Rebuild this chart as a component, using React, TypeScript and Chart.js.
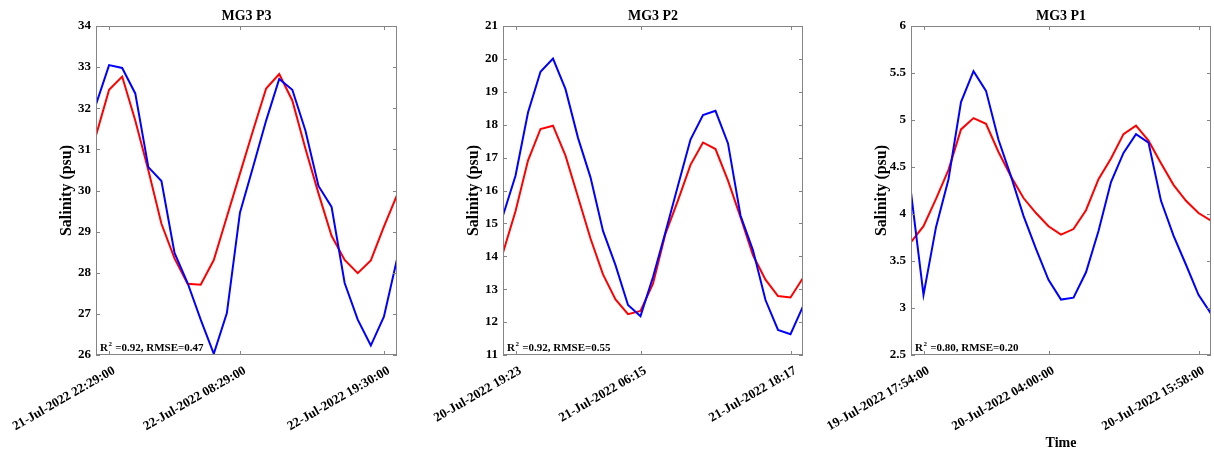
import React, { useEffect, useRef } from 'react';
import { Chart, registerables } from 'chart.js';

Chart.register(...registerables);

const FONT = '"Liberation Serif", "Times New Roman", serif';

// ---------- Panel "MG3 P3" ----------
const p3Title = 'MG3 P3';
const p3Observed = [32.09, 33.05, 32.98, 32.36, 30.57, 30.23, 28.48, 27.75, 26.86, 26.03, 27.02, 29.46, 30.57, 31.7, 32.71, 32.45, 31.46, 30.11, 29.6, 27.75, 26.86, 26.23, 26.93, 28.33];
const p3Predicted = [31.34, 32.45, 32.77, 31.7, 30.49, 29.19, 28.35, 27.73, 27.71, 28.31, 29.36, 30.41, 31.46, 32.48, 32.83, 32.19, 31.02, 29.93, 28.9, 28.31, 27.99, 28.3, 29.12, 29.89];
const p3TickPos = [1, 11, 22];
const p3TickLabels = ['21-Jul-2022 22:29:00', '22-Jul-2022 08:29:00', '22-Jul-2022 19:30:00'];
const p3YRange = [26, 34, 1];
const p3Stats = ['0.92', '0.47'];

// ---------- Panel "MG3 P2" ----------
const p2Title = 'MG3 P2';
const p2Observed = [15.24, 16.45, 18.37, 19.61, 20.01, 19.08, 17.6, 16.4, 14.77, 13.73, 12.52, 12.18, 13.37, 14.74, 16.15, 17.55, 18.29, 18.42, 17.43, 15.24, 14.18, 12.67, 11.76, 11.63, 12.48];
const p2Predicted = [14.11, 15.37, 16.91, 17.87, 17.97, 17.06, 15.8, 14.54, 13.45, 12.69, 12.24, 12.34, 13.17, 14.69, 15.7, 16.78, 17.46, 17.26, 16.3, 15.19, 14.03, 13.29, 12.79, 12.75, 13.34];
const p2TickPos = [1, 11, 23];
const p2TickLabels = ['20-Jul-2022 19:23', '21-Jul-2022 06:15', '21-Jul-2022 18:17'];
const p2YRange = [11, 21, 1];
const p2Stats = ['0.92', '0.55'];

// ---------- Panel "MG3 P1" ----------
const p1Title = 'MG3 P1';
const p1Observed = [4.23, 3.14, 3.86, 4.37, 5.19, 5.52, 5.31, 4.79, 4.4, 3.98, 3.63, 3.3, 3.09, 3.11, 3.38, 3.82, 4.34, 4.65, 4.85, 4.76, 4.14, 3.77, 3.46, 3.14, 2.94];
const p1Predicted = [3.7, 3.87, 4.16, 4.47, 4.9, 5.02, 4.96, 4.66, 4.4, 4.17, 4.01, 3.87, 3.78, 3.84, 4.04, 4.37, 4.59, 4.85, 4.94, 4.78, 4.54, 4.31, 4.14, 4.01, 3.93];
const p1TickPos = [1, 11, 23];
const p1TickLabels = ['19-Jul-2022 17:54:00', '20-Jul-2022 04:00:00', '20-Jul-2022 15:58:00'];
const p1YRange = [2.5, 6, 0.5];
const p1Stats = ['0.80', '0.20'];

const yAxisLabel = 'Salinity (psu)';
const xAxisLabel = 'Time';

const matlabPlugin = {
  id: 'matlabFrame',
  afterDatasetsDraw(chart: any, _args: any, opts: any) {
    const { ctx, chartArea: a, scales } = chart;
    ctx.save();
    // frame
    ctx.strokeStyle = '#858585';
    ctx.lineWidth = 1;
    ctx.strokeRect(a.left + 0.5, a.top + 0.5, a.right - a.left - 1, a.bottom - a.top - 1);
    // inward ticks
    const tl = 4;
    ctx.beginPath();
    scales.x.ticks.forEach((t: any) => {
      const px = Math.round(scales.x.getPixelForValue(t.value)) + 0.5;
      ctx.moveTo(px, a.bottom);
      ctx.lineTo(px, a.bottom - tl);
      ctx.moveTo(px, a.top);
      ctx.lineTo(px, a.top + tl);
    });
    scales.y.ticks.forEach((t: any) => {
      const py = Math.round(scales.y.getPixelForValue(t.value)) + 0.5;
      ctx.moveTo(a.left, py);
      ctx.lineTo(a.left + tl, py);
      ctx.moveTo(a.right, py);
      ctx.lineTo(a.right - tl, py);
    });
    ctx.stroke();
    // title
    ctx.fillStyle = '#000';
    ctx.font = `bold 14px ${FONT}`;
    ctx.textAlign = 'center';
    ctx.textBaseline = 'alphabetic';
    ctx.fillText(opts.title, (a.left + a.right) / 2, a.top - 6);
    // annotation R^2 / RMSE
    ctx.textAlign = 'left';
    const x0 = a.left + 4;
    const base = a.bottom - 4;
    ctx.font = `bold 11px ${FONT}`;
    ctx.fillText('R', x0, base);
    const wR = ctx.measureText('R').width;
    ctx.font = `bold 7px ${FONT}`;
    ctx.fillText('2', x0 + wR + 0.5, base - 5);
    const w2 = ctx.measureText('2').width;
    ctx.font = `bold 11px ${FONT}`;
    ctx.fillText(` =${opts.r2}, RMSE=${opts.rmse}`, x0 + wR + w2 + 1, base);
    ctx.restore();
  },
};

type PanelDef = {
  title: string;
  observed: number[];
  predicted: number[];
  tickPos: number[];
  tickLabels: string[];
  yRange: number[];
  stats: string[];
  left: number;
  width: number;
  plotLeft: number;
  plotRight: number;
  showXTitle: boolean;
};

const panels: PanelDef[] = [
  { title: p3Title, observed: p3Observed, predicted: p3Predicted, tickPos: p3TickPos, tickLabels: p3TickLabels, yRange: p3YRange, stats: p3Stats, left: 0, width: 410, plotLeft: 96, plotRight: 397, showXTitle: false },
  { title: p2Title, observed: p2Observed, predicted: p2Predicted, tickPos: p2TickPos, tickLabels: p2TickLabels, yRange: p2YRange, stats: p2Stats, left: 420, width: 390, plotLeft: 503, plotRight: 803, showXTitle: false },
  { title: p1Title, observed: p1Observed, predicted: p1Predicted, tickPos: p1TickPos, tickLabels: p1TickLabels, yRange: p1YRange, stats: p1Stats, left: 820, width: 394, plotLeft: 911, plotRight: 1211, showXTitle: true },
];

const H = 455;
const PLOT_TOP = 26;
const PLOT_BOTTOM = 355;
const Y_AXIS_W = 42;

function Panel({ def }: { def: PanelDef }) {
  const ref = useRef<HTMLCanvasElement>(null);
  useEffect(() => {
    if (!ref.current) return;
    const n = def.observed.length;
    const xs = def.observed.map((_, i) => i);
    const padLeft = def.plotLeft - def.left - Y_AXIS_W;
    const padRight = def.left + def.width - def.plotRight;
    const chart = new Chart(ref.current, {
      type: 'line',
      data: {
        labels: xs,
        datasets: [
          {
            label: 'Observed',
            data: def.observed.map((v, i) => ({ x: xs[i], y: v })),
            borderColor: '#0000ff',
            borderWidth: 2,
            pointRadius: 0,
            tension: 0,
          },
          {
            label: 'Predicted',
            data: def.predicted.map((v, i) => ({ x: xs[i], y: v })),
            borderColor: '#ff0000',
            borderWidth: 2,
            pointRadius: 0,
            tension: 0,
          },
        ],
      },
      options: {
        responsive: false,
        animation: false,
        layout: { padding: { left: padLeft, right: padRight, top: PLOT_TOP, bottom: 0 } },
        plugins: {
          legend: { display: false },
          tooltip: { enabled: false },
          title: { display: false },
          matlabFrame: { title: def.title, r2: def.stats[0], rmse: def.stats[1] },
        } as any,
        scales: {
          x: {
            type: 'linear',
            min: 0,
            max: n - 1,
            grid: { display: false, drawTicks: false },
            border: { display: false },
            afterBuildTicks: (scale: any) => {
              scale.ticks = def.tickPos.map((v) => ({ value: v }));
            },
            afterFit: (scale: any) => {
              scale.height = H - PLOT_BOTTOM;
              scale.paddingLeft = 0;
              scale.paddingRight = 0;
            },
            ticks: {
              autoSkip: false,
              minRotation: 30,
              maxRotation: 30,
              padding: 8,
              labelOffset: 5,
              color: '#000',
              font: { family: FONT, size: 13, weight: 'bold' },
              callback: (v: any) => {
                const idx = def.tickPos.indexOf(Number(v));
                return idx >= 0 ? def.tickLabels[idx] : '';
              },
            },
            title: {
              display: def.showXTitle,
              text: xAxisLabel,
              color: '#000',
              font: { family: FONT, size: 14, weight: 'bold' },
              padding: { top: 0, bottom: 3 },
            },
          },
          y: {
            min: def.yRange[0],
            max: def.yRange[1],
            grid: { display: false, drawTicks: false },
            border: { display: false },
            afterFit: (scale: any) => {
              scale.width = Y_AXIS_W;
              scale.paddingTop = 0;
              scale.paddingBottom = 0;
            },
            ticks: {
              stepSize: def.yRange[2],
              padding: 5,
              color: '#000',
              font: { family: FONT, size: 13, weight: 'bold' },
              callback: (v: any) => String(Number(v)),
            },
            title: {
              display: true,
              text: yAxisLabel,
              color: '#000',
              font: { family: FONT, size: 16, weight: 'bold' },
              padding: { top: 3, bottom: 0 },
            },
          },
        },
      } as any,
      plugins: [matlabPlugin],
    });
    return () => chart.destroy();
  }, [def]);
  return (
    <canvas
      ref={ref}
      width={def.width}
      height={H}
      style={{ position: 'absolute', left: def.left, top: 0, width: def.width, height: H }}
    />
  );
}

export default function App() {
  return (
    <div style={{ position: 'absolute', left: 0, top: 0, width: 1214, height: H, background: '#fff' }}>
      {panels.map((p) => (
        <Panel key={p.title} def={p} />
      ))}
    </div>
  );
}
